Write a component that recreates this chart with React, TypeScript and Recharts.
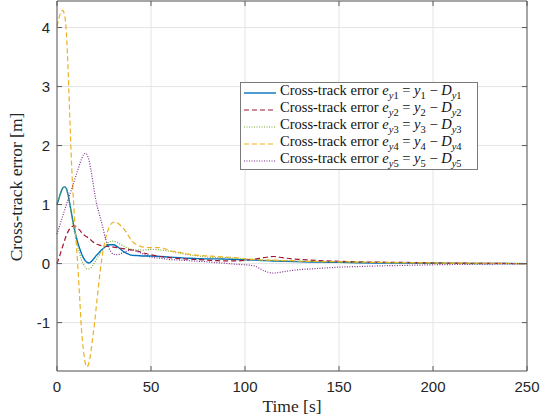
import React from 'react';
import { LineChart, Line, XAxis, YAxis, CartesianGrid } from 'recharts';

// time samples [s]
const time = [
  0, 1, 2, 3, 4, 5, 6, 7, 8, 9, 10, 11, 12, 13, 14, 15, 16, 17, 18, 19, 20, 21, 22, 23, 24,
  26, 28, 30, 32, 34, 36, 38, 40, 43, 46, 50, 55, 60, 65, 70, 75, 80, 85, 90, 95, 100,
  105, 110, 115, 120, 125, 130, 140, 150, 160, 170, 185, 200, 225, 250,
];

const ey1 = [
  1.0, 1.1, 1.2, 1.28, 1.3, 1.27, 1.15, 0.98, 0.8, 0.63, 0.48, 0.36, 0.26, 0.17, 0.1, 0.05, 0.02, 0.01, 0.03, 0.06, 0.1, 0.14, 0.17, 0.21, 0.24,
  0.29, 0.32, 0.32, 0.29, 0.24, 0.19, 0.16, 0.14, 0.135, 0.13, 0.13, 0.12, 0.11, 0.1, 0.09, 0.085, 0.08, 0.08, 0.075, 0.07, 0.065,
  0.06, 0.05, 0.045, 0.04, 0.035, 0.03, 0.025, 0.02, 0.015, 0.01, 0.008, 0.005, 0.002, 0,
];

const ey2 = [
  0, 0.09, 0.19, 0.29, 0.39, 0.48, 0.55, 0.6, 0.63, 0.64, 0.63, 0.6, 0.57, 0.53, 0.5, 0.47, 0.45, 0.42, 0.4, 0.37, 0.35, 0.33, 0.32, 0.31, 0.3,
  0.29, 0.29, 0.28, 0.27, 0.26, 0.25, 0.24, 0.23, 0.21, 0.18, 0.15, 0.12, 0.1, 0.085, 0.075, 0.07, 0.06, 0.05, 0.045, 0.045, 0.055,
  0.075, 0.1, 0.12, 0.1, 0.08, 0.07, 0.05, 0.04, 0.03, 0.025, 0.02, 0.012, 0.005, 0,
];

const ey3 = [
  1.0, 1.1, 1.2, 1.28, 1.3, 1.27, 1.14, 0.96, 0.77, 0.58, 0.42, 0.29, 0.17, 0.07, -0.01, -0.06, -0.09, -0.09, -0.07, -0.03, 0.02, 0.07, 0.12, 0.17, 0.22,
  0.31, 0.37, 0.38, 0.36, 0.32, 0.29, 0.26, 0.24, 0.23, 0.23, 0.24, 0.23, 0.21, 0.18, 0.15, 0.13, 0.11, 0.1, 0.1, 0.09, 0.08,
  0.07, 0.06, 0.055, 0.05, 0.045, 0.04, 0.035, 0.03, 0.025, 0.02, 0.015, 0.01, 0.005, 0,
];

const ey4 = [
  4.02, 4.15, 4.26, 4.29, 4.22, 3.9, 3.2, 2.3, 1.5, 0.95, 0.45, 0.0, -0.55, -1.1, -1.45, -1.68, -1.75, -1.68, -1.5, -1.25, -1.0, -0.7, -0.4, -0.12, 0.12,
  0.45, 0.63, 0.7, 0.69, 0.64, 0.57, 0.47, 0.38, 0.31, 0.28, 0.27, 0.27, 0.22, 0.19, 0.16, 0.14, 0.13, 0.12, 0.11, 0.1, 0.08,
  0.07, 0.06, 0.06, 0.05, 0.05, 0.04, 0.035, 0.03, 0.025, 0.02, 0.015, 0.01, 0.005, 0,
];

const ey5 = [
  0.5, 0.6, 0.7, 0.8, 0.9, 1.0, 1.1, 1.19, 1.28, 1.38, 1.48, 1.58, 1.68, 1.77, 1.84, 1.87, 1.84, 1.75, 1.6, 1.4, 1.2, 1.02, 0.9, 0.78, 0.66,
  0.4, 0.24, 0.16, 0.15, 0.17, 0.2, 0.22, 0.23, 0.2, 0.16, 0.11, 0.09, 0.07, 0.06, 0.05, 0.04, 0.03, 0.015, 0.005, -0.01, -0.02,
  -0.04, -0.12, -0.16, -0.14, -0.115, -0.1, -0.08, -0.06, -0.05, -0.04, -0.03, -0.02, -0.01, 0,
];

const xTicks = [0, 50, 100, 150, 200, 250];
const yTicks = [-1, 0, 1, 2, 3, 4];

const series = [
  { key: 'ey1', n: '1', color: '#0072BD', dash: undefined, width: 1.4 },
  { key: 'ey2', n: '2', color: '#A2142F', dash: '5 3', width: 1.2 },
  { key: 'ey3', n: '3', color: '#77AC30', dash: '1 1.5', width: 1.2 },
  { key: 'ey4', n: '4', color: '#EDB120', dash: '5 3', width: 1.2 },
  { key: 'ey5', n: '5', color: '#7E2F8E', dash: '1 1.5', width: 1.2 },
];

const data = time.map((t, i) => ({ t, ey1: ey1[i], ey2: ey2[i], ey3: ey3[i], ey4: ey4[i], ey5: ey5[i] }));

const AX = '#5a5a5a';
const TICK_FONT = { fontFamily: '"Liberation Sans", Arial, sans-serif', fontSize: 15, fill: '#262626' };
const SERIF = '"Liberation Serif", "Times New Roman", serif';

const BottomTick = (p: any) => (
  <g>
    <line x1={p.x} y1={p.y} x2={p.x} y2={p.y - 5} stroke={AX} />
    <text x={p.x} y={p.y + 21} textAnchor="middle" {...TICK_FONT}>{p.payload.value}</text>
  </g>
);
const TopTick = (p: any) => <line x1={p.x} y1={p.y} x2={p.x} y2={p.y + 5} stroke={AX} />;
const LeftTick = (p: any) => (
  <g>
    <line x1={p.x} y1={p.y} x2={p.x + 5} y2={p.y} stroke={AX} />
    <text x={p.x - 7} y={p.y + 5} textAnchor="end" {...TICK_FONT}>{p.payload.value}</text>
  </g>
);
const RightTick = (p: any) => <line x1={p.x} y1={p.y} x2={p.x - 5} y2={p.y} stroke={AX} />;

const LegendRow = ({ s }: { s: (typeof series)[number] }) => (
  <div style={{ display: 'flex', alignItems: 'center', height: 17 }}>
    <svg width={36} height={17} style={{ flex: 'none' }}>
      <line x1={3} y1={9} x2={35} y2={9} stroke={s.color} strokeWidth={s.width} strokeDasharray={s.dash} />
    </svg>
    <span style={{ marginLeft: 3, whiteSpace: 'nowrap' }}>
      Cross-track error <i>e</i>
      <sub style={{ fontSize: 10.5 }}><i>y</i>{s.n}</sub> = <i>y</i>
      <sub style={{ fontSize: 10.5 }}>{s.n}</sub> − <i>D</i>
      <sub style={{ fontSize: 10.5 }}><i>y</i>{s.n}</sub>
    </span>
  </div>
);

export default function App() {
  return (
    <div style={{ position: 'absolute', left: 0, top: 0, width: 548, height: 418, background: '#fff' }}>
      <LineChart width={548} height={418} data={data} margin={{ top: 0, right: 20, bottom: 17, left: 0 }}>
        <CartesianGrid xAxisId="b" yAxisId="l" stroke="#e4e4e4" />
        <XAxis
          xAxisId="b"
          dataKey="t"
          type="number"
          domain={[0, 250]}
          ticks={xTicks}
          height={30}
          tickSize={0}
          tickMargin={0}
          tickLine={false}
          axisLine={{ stroke: AX }}
          tick={BottomTick}
          label={{
            content: () => (
              <text x={292} y={412} textAnchor="middle" fontFamily={SERIF} fontSize={17.5} fill="#262626">
                Time [s]
              </text>
            ),
          }}
        />
        <XAxis
          xAxisId="t"
          orientation="top"
          dataKey="t"
          type="number"
          domain={[0, 250]}
          ticks={xTicks}
          height={1}
          tickSize={0}
          tickMargin={0}
          tickLine={false}
          axisLine={{ stroke: AX }}
          tick={TopTick}
        />
        <YAxis
          yAxisId="l"
          type="number"
          domain={[-1.82, 4.45]}
          ticks={yTicks}
          width={57}
          tickSize={0}
          tickMargin={0}
          tickLine={false}
          axisLine={{ stroke: AX }}
          tick={LeftTick}
          allowDataOverflow
          label={{
            content: () => (
              <text
                x={22}
                y={187}
                textAnchor="middle"
                transform="rotate(-90 22 187)"
                fontFamily={SERIF}
                fontSize={17.5}
                fill="#262626"
              >
                Cross-track error [m]
              </text>
            ),
          }}
        />
        <YAxis
          yAxisId="r"
          orientation="right"
          type="number"
          domain={[-1.82, 4.45]}
          ticks={yTicks}
          width={1}
          tickSize={0}
          tickMargin={0}
          tickLine={false}
          axisLine={{ stroke: AX }}
          tick={RightTick}
          allowDataOverflow
        />
        {series.map((s) => (
          <Line
            key={s.key}
            xAxisId="b"
            yAxisId="l"
            dataKey={s.key}
            type="monotone"
            stroke={s.color}
            strokeWidth={s.width}
            strokeDasharray={s.dash}
            dot={false}
            activeDot={false}
            isAnimationActive={false}
          />
        ))}
      </LineChart>
      <div
        style={{
          position: 'absolute',
          left: 240,
          top: 82,
          width: 236,
          height: 85,
          border: '1px solid #7a7a7a',
          background: '#fff',
          fontFamily: SERIF,
          fontSize: 14.5,
          color: '#111',
          lineHeight: '17px',
          paddingTop: 1,
          boxSizing: 'content-box',
        }}
      >
        {series.map((s) => (
          <LegendRow key={s.key} s={s} />
        ))}
      </div>
    </div>
  );
}
